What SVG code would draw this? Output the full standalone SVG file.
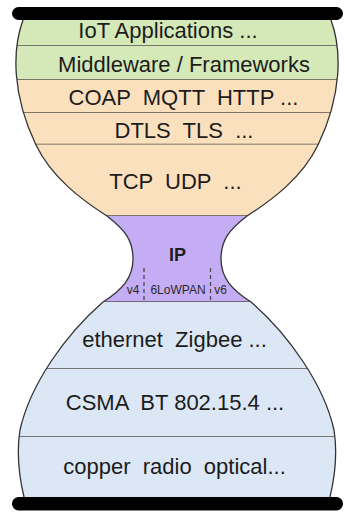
<svg xmlns="http://www.w3.org/2000/svg" width="345" height="512" viewBox="0 0 345 512">
  <defs>
    <!-- hourglass body outline -->
    <path id="glass" d="M 24 14 L 23 20 C 12 50, 12 95, 36 145 C 52 178, 82 200, 107 216 C 125 230, 133 240, 133 259 C 133 278, 122 290, 103 302 C 65 335, 30 385, 20 430 C 16 455, 20 480, 24 497 L 24 503 L 330 503 L 330 497 C 334 480, 338 455, 334 430 C 324 385, 289 335, 251 302 C 232 290, 221 278, 221 259 C 221 240, 229 230, 247 216 C 272 200, 302 178, 318 145 C 342 95, 342 50, 331 20 L 330 14 Z"/>
    <clipPath id="glassClip">
      <use href="#glass"/>
    </clipPath>
  </defs>
  <style>
    .label { font-family: "Liberation Sans", Arial, Helvetica, sans-serif; font-size: 22px; fill: #1c1c1c; text-anchor: middle; white-space: pre; }
    .small { font-family: "Liberation Sans", Arial, Helvetica, sans-serif; font-size: 12px; fill: #2a2a2a; text-anchor: middle; white-space: pre; }
    .ip { font-family: "Liberation Sans", Arial, Helvetica, sans-serif; font-size: 18px; font-weight: bold; fill: #1c1c1c; text-anchor: middle; }
    .app { fill: #d5e8b7; }
    .proto { fill: #fbe0be; }
    .net { fill: #c5adf5; }
    .link { fill: #dbe7f5; }
    .divider { stroke: #54504c; stroke-width: 1.3; fill: none; }
    .dash { stroke: #444444; stroke-width: 1.2; stroke-dasharray: 4 3; fill: none; }
    .outline { fill: none; stroke: #333333; stroke-width: 1.3; }
    .bar { fill: #000000; }
  </style>

  <!-- layer fills, clipped to the hourglass -->
  <g clip-path="url(#glassClip)">
    <g id="layer-iot-apps">
      <rect class="app" x="0" y="10" width="345" height="36"/>
      <line class="divider" x1="0" y1="46" x2="345" y2="46"/>
    </g>
    <g id="layer-middleware">
      <rect class="app" x="0" y="46" width="345" height="34"/>
      <line class="divider" x1="0" y1="80" x2="345" y2="80"/>
    </g>
    <g id="layer-coap">
      <rect class="proto" x="0" y="80" width="345" height="33"/>
      <line class="divider" x1="0" y1="113" x2="345" y2="113"/>
    </g>
    <g id="layer-dtls">
      <rect class="proto" x="0" y="113" width="345" height="31.5"/>
      <line class="divider" x1="0" y1="144.5" x2="345" y2="144.5"/>
    </g>
    <g id="layer-tcp">
      <rect class="proto" x="0" y="144.5" width="345" height="71.5"/>
      <line class="divider" x1="0" y1="216" x2="345" y2="216"/>
    </g>
    <g id="layer-ip">
      <rect class="net" x="0" y="216" width="345" height="86"/>
      <line class="dash" x1="144" y1="268" x2="144" y2="302"/>
      <line class="dash" x1="210.5" y1="268" x2="210.5" y2="302"/>
      <line class="divider" x1="0" y1="302" x2="345" y2="302"/>
    </g>
    <g id="layer-ethernet">
      <rect class="link" x="0" y="302" width="345" height="67"/>
      <line class="divider" x1="0" y1="369" x2="345" y2="369"/>
    </g>
    <g id="layer-csma">
      <rect class="link" x="0" y="369" width="345" height="68"/>
      <line class="divider" x1="0" y1="437" x2="345" y2="437"/>
    </g>
    <g id="layer-physical">
      <rect class="link" x="0" y="437" width="345" height="70"/>
    </g>
  </g>

  <!-- hourglass outline -->
  <use href="#glass" class="outline"/>

  <!-- layer labels -->
  <g id="labels">
    <text class="label" x="168" y="38">IoT Applications ...</text>
    <text class="label" x="184" y="71.5">Middleware / Frameworks</text>
    <text class="label" x="183.5" y="105" xml:space="preserve">COAP  MQTT  HTTP ...</text>
    <text class="label" x="184" y="137.5" xml:space="preserve">DTLS  TLS  ...</text>
    <text class="label" x="175.5" y="189" xml:space="preserve">TCP  UDP  ...</text>
    <text class="ip" x="177.5" y="261">IP</text>
    <text class="small" x="133" y="293.5">v4</text>
    <text class="small" x="178" y="293.5">6LoWPAN</text>
    <text class="small" x="220.5" y="293.5">v6</text>
    <text class="label" x="174.5" y="347" xml:space="preserve">ethernet  Zigbee ...</text>
    <text class="label" x="175" y="409.5" xml:space="preserve">CSMA  BT 802.15.4 ...</text>
    <text class="label" x="174.5" y="474" xml:space="preserve">copper  radio  optical...</text>
  </g>

  <!-- top and bottom caps -->
  <rect id="cap-top" class="bar" x="12" y="7" width="331" height="13" rx="6.5"/>
  <rect id="cap-bottom" class="bar" x="12" y="497" width="331" height="13.5" rx="6.5"/>
</svg>
